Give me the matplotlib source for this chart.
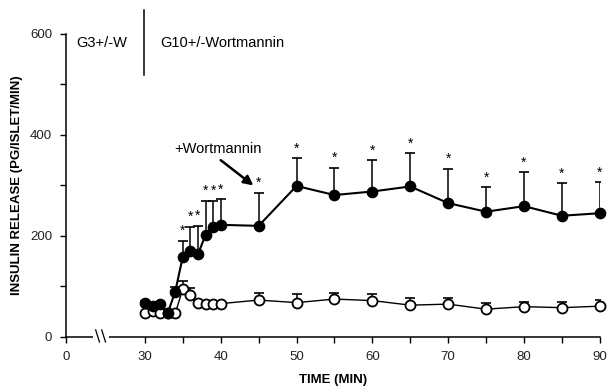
import matplotlib.pyplot as plt
from matplotlib.patches import Rectangle

plt.rcParams['font.family'] = ['Liberation Sans', 'DejaVu Sans']

# tiempos (min)
tiempo = [30, 31, 32, 33, 34, 35, 36, 37, 38, 39, 40, 45, 50, 55, 60, 65, 70, 75, 80, 85, 90]

# G10 + wortmannin (circulos negros)
negro = [67, 62, 65, 47, 90, 159, 170, 164, 202, 218, 222, 220, 299, 281, 288, 298, 265, 248, 259, 240, 245]
negro_err = [4, 4, 4, 3, 8, 31, 48, 56, 68, 52, 51, 66, 55, 54, 62, 66, 68, 48, 67, 64, 61]
estrella = [False, False, False, False, False, True, True, True, True, True, True,
            True, True, True, True, True, True, True, True, True, True]

# G3 (circulos blancos)
blanco = [47, 52, 48, 47, 47, 95, 84, 67, 66, 66, 66, 73, 68, 75, 72, 63, 65, 55, 60, 58, 61]
blanco_err = [3, 3, 3, 3, 3, 15, 13, 5, 3, 3, 3, 15, 17, 13, 14, 14, 12, 13, 9, 11, 12]

x_ticks = [30, 35, 40, 45, 50, 55, 60, 65, 70, 75, 80, 85, 90]
x_labels = ['30', '', '40', '', '50', '', '60', '', '70', '', '80', '', '90']
x_cero = 19.6  # posicion del "0" en el eje cortado

fig = plt.figure(figsize=(6.12, 3.9), dpi=100)
ax = fig.add_axes([0.108, 0.136, 0.872, 0.777])

ax.errorbar(tiempo, negro, yerr=[[0] * len(negro), negro_err], fmt='none',
            ecolor='black', elinewidth=1.1, capsize=3.6, capthick=1.2, zorder=2)
ax.errorbar(tiempo, blanco, yerr=[[0] * len(blanco), blanco_err], fmt='none',
            ecolor='black', elinewidth=1.1, capsize=3.6, capthick=1.2, zorder=2)
ax.plot(tiempo, blanco, '-o', color='black', mfc='white', mec='black',
        ms=7.2, mew=1.3, lw=1.0, zorder=3, clip_on=False)
ax.plot(tiempo, negro, '-o', color='black', mfc='black', mec='black',
        ms=7.4, mew=1.0, lw=1.5, zorder=4, clip_on=False)

for t, v, e, s in zip(tiempo, negro, negro_err, estrella):
    if s:
        ax.annotate('*', (t, v + e), xytext=(0, 2), textcoords='offset points',
                    ha='center', va='bottom', fontsize=10)

ax.set_xlim(x_cero, 90)
ax.set_ylim(0, 600)
ax.set_xticks([x_cero] + x_ticks)
ax.set_xticklabels(['0'] + x_labels, fontsize=9.5)
ax.set_yticks([0, 200, 400, 600])
ax.set_yticks([100, 300, 500], minor=True)
ax.set_yticklabels(['0', '200', '400', '600'], fontsize=9.5)
ax.tick_params(axis='both', which='both', direction='out', width=1.0, color='black')
ax.tick_params(axis='both', which='major', length=4, pad=6)
ax.tick_params(axis='y', which='minor', length=4)
for lab in ax.get_xticklabels() + ax.get_yticklabels():
    lab.set_color('#222222')
ax.spines['top'].set_visible(False)
ax.spines['right'].set_visible(False)
ax.spines['left'].set_linewidth(1.1)
ax.spines['bottom'].set_linewidth(1.1)

# corte del eje x
ax.add_patch(Rectangle((23.1, -8), 2.2, 16, facecolor='white', edgecolor='none',
                       transform=ax.transData, clip_on=False, zorder=5))
for x0 in [23.5, 24.3]:
    ax.plot([x0, x0 + 0.5], [14, -10], color='black', lw=0.9, clip_on=False, zorder=6)

ax.set_xlabel('TIME (MIN)', fontsize=9.5, fontweight='bold', labelpad=8)
ax.set_ylabel('INSULIN RELEASE (PG/ISLET/MIN)', fontsize=9.5, fontweight='bold', labelpad=5)

# textos de condiciones
ax.plot([29.9, 29.9], [519, 647], color='black', lw=1.1, clip_on=False)
ax.text(20.9, 582, 'G3+/-W', fontsize=10.5, va='center', ha='left')
ax.text(32.0, 582, 'G10+/-Wortmannin', fontsize=10.5, va='center', ha='left')

ax.text(39.6, 372, '+Wortmannin', fontsize=10.5, ha='center', va='center')
ax.annotate('', xy=(44.3, 300), xytext=(40.0, 350),
            arrowprops=dict(arrowstyle='-|>', color='black', lw=1.8,
                            shrinkA=0, shrinkB=0, mutation_scale=14))

fig.savefig('out.png', dpi=100)
